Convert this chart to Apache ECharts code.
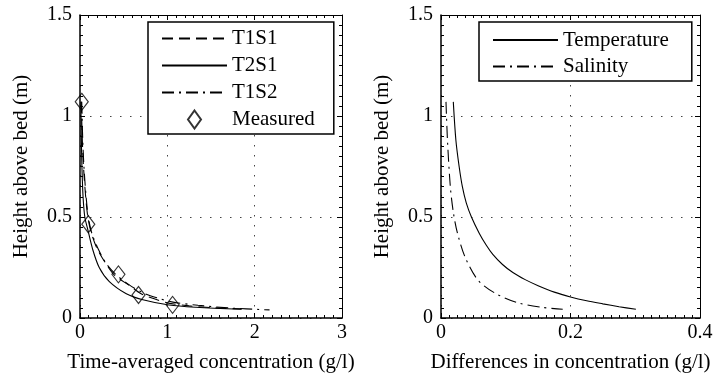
<!DOCTYPE html>
<html>
<head>
<meta charset="utf-8">
<script src="https://cdn.jsdelivr.net/npm/echarts@6/dist/echarts.min.js"></script>
<style>
  html, body { margin: 0; padding: 0; background: #fff; }
  #chart { width: 719px; height: 375px; }
</style>
</head>
<body>
<div id="chart"></div>
<script>
// Left panel: model profiles (concentration g/l vs height m)
const t1s1Conc = [0.015, 0.025, 0.04, 0.065, 0.09, 0.13, 0.2, 0.31, 0.4, 0.57, 0.7, 0.85, 1.0, 1.25, 1.55, 1.85];
const t1s1Height = [1.07, 0.9, 0.75, 0.6, 0.5, 0.42, 0.34, 0.26, 0.21, 0.16, 0.12, 0.095, 0.075, 0.06, 0.05, 0.045];

const t2s1Conc = [0.01, 0.015, 0.022, 0.035, 0.055, 0.088, 0.145, 0.22, 0.336, 0.53, 0.72, 1.02, 1.33, 1.85];
const t2s1Height = [1.07, 0.9, 0.75, 0.6, 0.5, 0.44, 0.34, 0.25, 0.18, 0.12, 0.09, 0.064, 0.053, 0.043];

const t1s2Conc = [0.02, 0.03, 0.045, 0.07, 0.095, 0.135, 0.21, 0.3, 0.4, 0.56, 0.72, 0.88, 1.05, 1.35, 1.7, 2.17];
const t1s2Height = [1.07, 0.9, 0.75, 0.6, 0.5, 0.42, 0.34, 0.27, 0.22, 0.165, 0.125, 0.1, 0.08, 0.063, 0.05, 0.04];

const measuredConc = [0.02, 0.095, 0.44, 0.67, 1.06];
const measuredHeight = [1.07, 0.464, 0.216, 0.114, 0.065];

// Right panel: differences in concentration
const tempDiff = [0.019, 0.023, 0.028, 0.033, 0.039, 0.047, 0.059, 0.07, 0.08, 0.095, 0.111, 0.13, 0.15, 0.175, 0.2, 0.225, 0.25, 0.275, 0.301];
const tempHeight = [1.07, 0.88, 0.75, 0.65, 0.57, 0.5, 0.42, 0.36, 0.315, 0.265, 0.225, 0.19, 0.16, 0.128, 0.104, 0.085, 0.07, 0.056, 0.043];

const salDiff = [0.0077, 0.010, 0.0144, 0.0193, 0.0255, 0.037, 0.057, 0.084, 0.118, 0.155, 0.188];
const salHeight = [1.07, 0.88, 0.65, 0.518, 0.419, 0.303, 0.188, 0.122, 0.076, 0.053, 0.043];

const leftXTicks = { min: 0, max: 3, interval: 1 };
const rightXTicks = { min: 0, max: 0.4, interval: 0.2 };
const yTicks = { min: 0, max: 1.5, interval: 0.5 };

const FONT = "Liberation Serif";
const pairs = (xs, ys) => xs.map((x, i) => [x, ys[i]]);
const diamond = "path://M0,-9L6.5,0L0,9L-6.5,0Z";

const chart = echarts.init(document.getElementById("chart"));

function mainX(grid, ticks, name) {
  return {
    type: "value", gridIndex: grid, position: "bottom", ...ticks,
    name: name, nameLocation: "middle", nameGap: 34,
    nameTextStyle: { fontFamily: FONT, fontSize: 21, color: "#000" },
    axisLine: { show: true, onZero: false, lineStyle: { color: "#000", width: 1.5 } },
    axisTick: { show: true, inside: true, length: 5, lineStyle: { color: "#000" } },
    minorTick: { show: true, splitNumber: ticks.max > 1 ? 10 : 16, length: 3, lineStyle: { color: "#000" } },
    axisLabel: { fontFamily: FONT, fontSize: 20, color: "#000", margin: 5 },
    splitLine: { show: true, lineStyle: { color: "#444", type: [1.5, 8.5], width: 1 } },
  };
}
function mirrorX(grid, ticks) {
  return {
    type: "value", gridIndex: grid, position: "top", ...ticks,
    axisLine: { show: true, onZero: false, lineStyle: { color: "#000", width: 1 } },
    axisTick: { show: true, inside: true, length: 5, lineStyle: { color: "#000" } },
    minorTick: { show: true, splitNumber: ticks.max > 1 ? 10 : 16, length: 3, lineStyle: { color: "#000" } },
    axisLabel: { show: false },
    splitLine: { show: false },
  };
}
function mainY(grid) {
  return {
    type: "value", gridIndex: grid, position: "left", ...yTicks,
    name: "Height above bed (m)", nameLocation: "middle", nameGap: 48,
    nameTextStyle: { fontFamily: FONT, fontSize: 21, color: "#000" },
    axisLine: { show: true, onZero: false, lineStyle: { color: "#000", width: 1.5 } },
    axisTick: { show: true, inside: true, length: 5, lineStyle: { color: "#000" } },
    minorTick: { show: true, splitNumber: 10, length: 3, lineStyle: { color: "#000" } },
    axisLabel: { fontFamily: FONT, fontSize: 20, color: "#000", margin: 8 },
    splitLine: { show: true, lineStyle: { color: "#444", type: [1.5, 8.5], width: 1 } },
  };
}
function mirrorY(grid) {
  return {
    type: "value", gridIndex: grid, position: "right", ...yTicks,
    axisLine: { show: true, onZero: false, lineStyle: { color: "#000", width: 1 } },
    axisTick: { show: true, inside: true, length: 5, lineStyle: { color: "#000" } },
    minorTick: { show: true, splitNumber: 10, length: 3, lineStyle: { color: "#000" } },
    axisLabel: { show: false },
    splitLine: { show: false },
  };
}

function curve(name, xs, ys, axis, dash) {
  return {
    name: name, type: "line", xAxisIndex: axis, yAxisIndex: axis,
    data: pairs(xs, ys), symbol: "circle", showSymbol: false, smooth: 0.3,
    lineStyle: { color: "#000", width: 1.1, type: dash },
    // transparent so the legend shows only the line sample
    itemStyle: { color: "rgba(0,0,0,0)", borderWidth: 0 },
    z: 3,
  };
}

const legendText = { fontFamily: FONT, fontSize: 21, color: "#000" };

chart.setOption({
  animation: false,
  backgroundColor: "#fff",
  grid: [
    { left: 80, top: 15, width: 262, height: 303, outerBoundsMode: "none", containLabel: false },
    { left: 441, top: 15, width: 259, height: 303, outerBoundsMode: "none", containLabel: false },
  ],
  xAxis: [
    mainX(0, leftXTicks, "Time-averaged concentration (g/l)"),
    mirrorX(0, leftXTicks),
    mainX(1, rightXTicks, "Differences in concentration (g/l)"),
    mirrorX(1, rightXTicks),
  ],
  yAxis: [mainY(0), mirrorY(0), mainY(1), mirrorY(1)],
  legend: [
    {
      data: ["T1S1", "T2S1", "T1S2", { name: "Measured", icon: diamond }],
      orient: "vertical", left: 148, top: 22,
      itemWidth: 65, itemHeight: 18, itemGap: 6,
      padding: [6, 19, 4, 13],
      backgroundColor: "#fff", borderColor: "#000", borderWidth: 1.5,
      textStyle: legendText,
      selectedMode: false,
    },
    {
      data: ["Temperature", "Salinity"],
      orient: "vertical", left: 479, top: 22,
      itemWidth: 65, itemHeight: 18, itemGap: 5.4,
      padding: [7.5, 23, 4, 13],
      backgroundColor: "#fff", borderColor: "#000", borderWidth: 1.5,
      textStyle: legendText,
      selectedMode: false,
    },
  ],
  series: [
    curve("T1S1", t1s1Conc, t1s1Height, 0, [11, 6]),
    curve("T2S1", t2s1Conc, t2s1Height, 0, "solid"),
    curve("T1S2", t1s2Conc, t1s2Height, 0, [12, 5, 2, 5]),
    {
      name: "Measured", type: "scatter", xAxisIndex: 0, yAxisIndex: 0,
      data: pairs(measuredConc, measuredHeight),
      symbol: diamond, symbolSize: [13, 17],
      itemStyle: { color: "rgba(255,255,255,0)", borderColor: "#000", borderWidth: 1.2 },
      z: 4,
    },
    curve("Temperature", tempDiff, tempHeight, 2, "solid"),
    curve("Salinity", salDiff, salHeight, 2, [12, 5, 2, 5]),
  ],
});
</script>
</body>
</html>
